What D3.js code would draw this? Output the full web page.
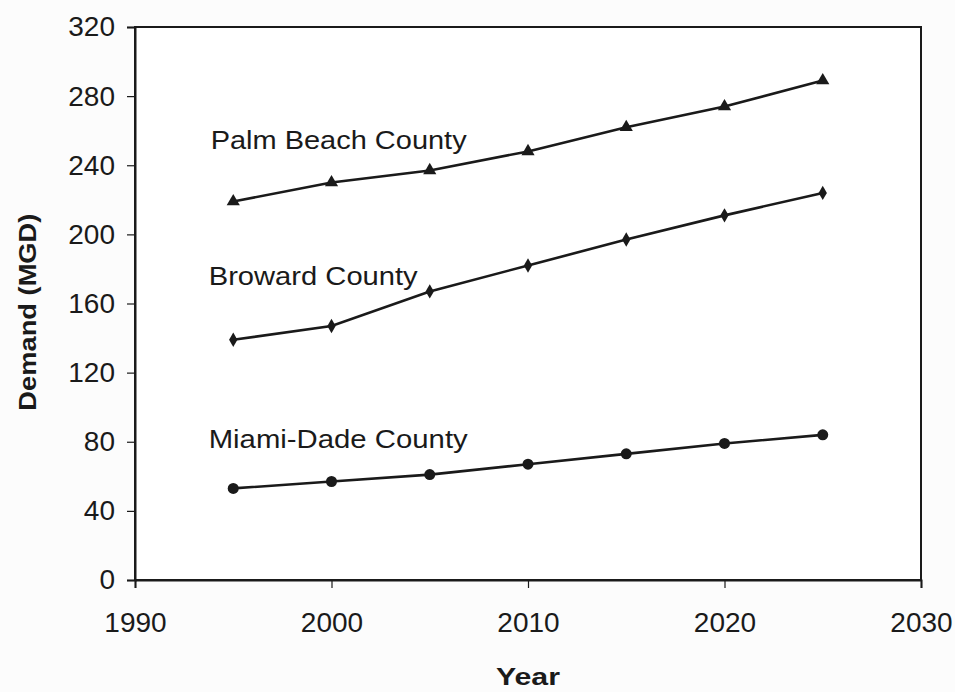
<!DOCTYPE html>
<html>
<head>
<meta charset="utf-8">
<script src="https://cdn.jsdelivr.net/npm/d3@7"></script>
<style>
  html, body { margin: 0; padding: 0; background: #fcfcfc; }
  svg { display: block; font-family: Arial, "Liberation Sans", sans-serif; }
</style>
</head>
<body>
<svg id="chart" width="955" height="692"></svg>
<script>
const years = [1995, 2000, 2005, 2010, 2015, 2020, 2025];
const palmBeach = [219, 230, 237, 248, 262, 274, 289];
const broward = [139, 147, 167, 182, 197, 211, 224];
const miamiDade = [53, 57, 61, 67, 73, 79, 84];
const seriesNames = ["Palm Beach County", "Broward County", "Miami-Dade County"];
const xTicks = [1990, 2000, 2010, 2020, 2030];
const yTicks = [0, 40, 80, 120, 160, 200, 240, 280, 320];
const xTitle = "Year";
const yTitle = "Demand (MGD)";

const svg = d3.select("#chart");
const L = 135, R = 921, T = 27, B = 580;
const x = d3.scaleLinear().domain([1990, 2030]).range([L, R]);
const y = d3.scaleLinear().domain([0, 320]).range([B, T]);
const ink = "#1a1a1a";

// plot frame
svg.append("rect").attr("x", L).attr("y", T).attr("width", R - L).attr("height", B - T)
  .attr("fill", "#ffffff").attr("stroke", ink).attr("stroke-width", 2);

// axes
const yAxis = svg.append("g").attr("transform", `translate(${L},0)`)
  .call(d3.axisLeft(y).tickValues(yTicks).tickSize(8).tickPadding(12).tickFormat(d3.format("d")));
const xAxis = svg.append("g").attr("transform", `translate(0,${B})`)
  .call(d3.axisBottom(x).tickValues(xTicks).tickSize(8).tickPadding(24).tickFormat(d3.format("d")));
[yAxis, xAxis].forEach(g => {
  g.select(".domain").attr("stroke", ink).attr("stroke-width", 2);
  g.selectAll(".tick line").attr("stroke", ink).attr("stroke-width", 1.2);
  g.selectAll(".tick text").attr("fill", ink).style("font-size", "28px")
    .style("font-family", "Arial, 'Liberation Sans', sans-serif");
});

// series
const data = [
  { name: seriesNames[0], values: palmBeach, marker: "triangle" },
  { name: seriesNames[1], values: broward, marker: "diamond" },
  { name: seriesNames[2], values: miamiDade, marker: "circle" }
];
const line = d3.line().x((d, i) => x(years[i])).y(d => y(d));
const symbols = { triangle: d3.symbolTriangle, diamond: d3.symbolDiamond, circle: d3.symbolCircle };
const sizes = { triangle: 75, diamond: 60, circle: 95 };

data.forEach(s => {
  svg.append("path").datum(s.values).attr("d", line)
    .attr("fill", "none").attr("stroke", ink).attr("stroke-width", 2.6);
  svg.append("g").selectAll("path").data(s.values).join("path")
    .attr("transform", (d, i) => `translate(${x(years[i])},${y(d)})`)
    .attr("d", d3.symbol().type(symbols[s.marker]).size(sizes[s.marker]))
    .attr("fill", ink);
});

// series labels
const labelPos = [
  { yr: 1993.85, v: 249.5, w: 256 },
  { yr: 1993.75, v: 170.5, w: 209 },
  { yr: 1993.75, v: 76.5, w: 259 }
];
data.forEach((s, i) => {
  svg.append("text").attr("x", x(labelPos[i].yr)).attr("y", y(labelPos[i].v))
    .attr("textLength", labelPos[i].w).attr("lengthAdjust", "spacingAndGlyphs")
    .attr("fill", ink).style("font-size", "26px").text(s.name);
});

// axis titles
svg.append("text").attr("x", x(2010)).attr("y", 685).attr("text-anchor", "middle")
  .attr("fill", ink).style("font-size", "24px").style("font-weight", "bold")
  .attr("textLength", 64).attr("lengthAdjust", "spacingAndGlyphs").text(xTitle);
svg.append("text").attr("transform", `translate(36,${y(155)}) rotate(-90)`)
  .attr("text-anchor", "middle").attr("fill", ink)
  .style("font-size", "24px").style("font-weight", "bold")
  .attr("textLength", 197).attr("lengthAdjust", "spacingAndGlyphs").text(yTitle);
</script>
</body>
</html>
